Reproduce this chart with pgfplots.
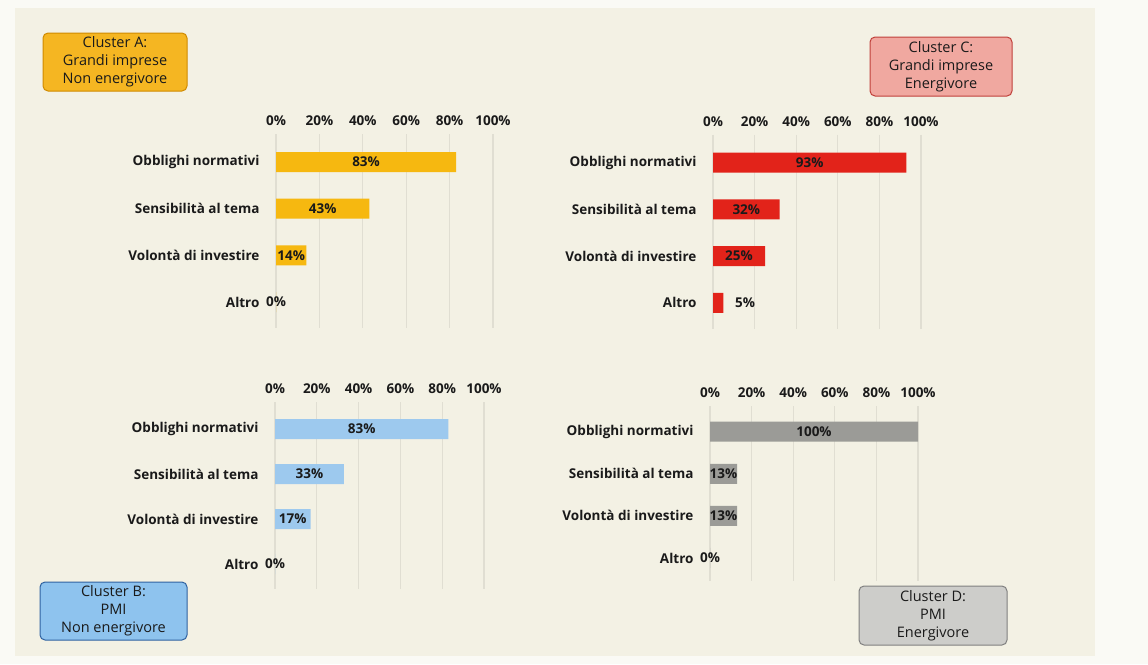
\documentclass[border=0pt]{standalone}
\usepackage{fontspec}
\setmainfont{Open Sans}
\usepackage{pgfplots}
\pgfplotsset{compat=1.18}
\usepackage{pgfplotstable}

\definecolor{bgpage}{HTML}{FAFAF5}
\definecolor{bgcream}{HTML}{F3F1E4}
\definecolor{gridc}{HTML}{E0DED2}
\definecolor{labc}{HTML}{1A1A1A}
\definecolor{barA}{HTML}{F6B810}
\definecolor{barC}{HTML}{E2231A}
\definecolor{barB}{HTML}{9DC9EE}
\definecolor{barD}{HTML}{9B9B97}
\definecolor{boxA}{HTML}{F5B622}
\definecolor{boxAd}{HTML}{D08A00}
\definecolor{boxC}{HTML}{F0A8A0}
\definecolor{boxCd}{HTML}{C0403A}
\definecolor{boxB}{HTML}{8EC3EE}
\definecolor{boxBd}{HTML}{2F62A0}
\definecolor{boxD}{HTML}{CDCDCA}
\definecolor{boxDd}{HTML}{808080}

\pgfplotstableread{
y v lx
0 83 41.5
1 43 21.5
2 14 7
3 0 0
}\dataA
\pgfplotstableread{
y v lx
0 93 46.5
1 32 16
2 25 12.5
3 5 15.4
}\dataC
\pgfplotstableread{
y v lx
0 83 41.5
1 33 16.5
2 17 8.5
3 0 0
}\dataB
\pgfplotstableread{
y v lx
0 100 50
1 13 6.5
2 13 6.5
3 0 0
}\dataD

\pgfplotsset{panel/.style={
  scale only axis, anchor=north west,
  xmin=0, xmax=100, ymin=-0.6, ymax=3.55, y dir=reverse,
  axis line style={draw=none},
  xtick={0,20,...,100},
  xticklabels={0\%,20\%,40\%,60\%,80\%,100\%},
  xticklabel pos=top,
  xmajorgrids, grid style={gridc, line width=1.3pt},
  major tick length=0pt,
  ytick={0,1,2,3},
  yticklabels={Obblighi normativi, Sensibilità al tema, Volontà di investire, Altro},
  tick label style={font=\bfseries\fontsize{13.5}{15}\selectfont, text=labc},
  yticklabel style={xshift=-13pt},
  xticklabel style={yshift=5pt},
  clip=false,
}}
\newcommand{\panel}[2]{%
  \addplot[xbar, bar width=20pt, fill=#2, draw=none] table[x=v, y=y]{#1};
  \addplot[draw=none, mark=none, nodes near coords={\pgfplotspointmeta\%},
    point meta=explicit symbolic,
    nodes near coords style={anchor=center, font=\bfseries\fontsize{13.5}{15}\selectfont, text=labc}]
    table[x=lx, y=y, meta=v]{#1};
}

\begin{document}
\begin{tikzpicture}
\fill[bgpage] (0pt,0pt) rectangle (1148pt,-664pt);
\fill[bgcream] (15pt,-8pt) rectangle (1095pt,-656pt);

% Panel A
\begin{axis}[panel, at={(276pt,-134pt)}, width=217pt, height=193.8pt]
\panel{\dataA}{barA}
\end{axis}
% Panel C
\begin{axis}[panel, at={(713pt,-134.7pt)}, width=208pt, height=193.8pt]
\panel{\dataC}{barC}
\end{axis}
% Panel B
\begin{axis}[panel, at={(275pt,-402pt)}, width=209pt, height=186.8pt]
\panel{\dataB}{barB}
\end{axis}
% Panel D
\begin{axis}[panel, at={(710pt,-406.4pt)}, width=208pt, height=174.7pt]
\panel{\dataD}{barD}
\end{axis}

\tikzset{cbox/.style={rounded corners=5pt, line width=1pt, minimum width=#1, align=center,
  font=\fontsize{14.5}{18}\selectfont, text=labc, inner sep=1pt}}
\node[cbox=144pt, fill=boxA, draw=boxAd, minimum height=58pt] at (115pt,-62pt) {Cluster A:\\Grandi imprese\\Non energivore};
\node[cbox=142pt, fill=boxC, draw=boxCd, minimum height=59pt] at (941pt,-66.5pt) {Cluster C:\\Grandi imprese\\Energivore};
\node[cbox=147pt, fill=boxB, draw=boxBd, minimum height=58pt] at (113.5pt,-611pt) {Cluster B:\\PMI\\Non energivore};
\node[cbox=148pt, fill=boxD, draw=boxDd, minimum height=59pt] at (933pt,-615.5pt) {Cluster D:\\PMI\\Energivore};
\end{tikzpicture}
\end{document}
